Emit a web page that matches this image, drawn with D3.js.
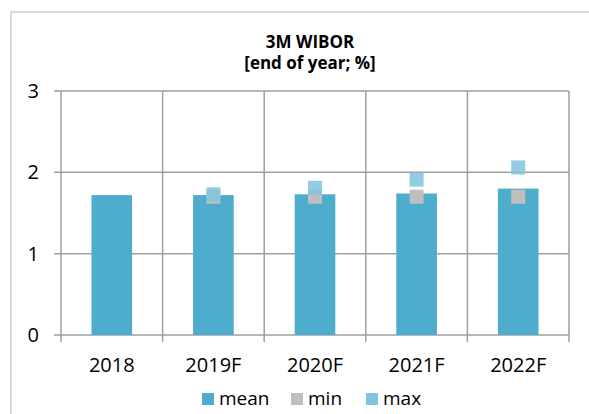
<!DOCTYPE html>
<html>
<head>
<meta charset="utf-8">
<script src="https://cdn.jsdelivr.net/npm/d3@7"></script>
<style>
  body { margin: 0; background: #fff; }
  text { font-family: "Open Sans", sans-serif; fill: #000; }
</style>
</head>
<body>
<svg id="chart" width="589" height="414"></svg>
<script>
// 数据
var categories = ["2018", "2019F", "2020F", "2021F", "2022F"];
var meanVals = [1.72, 1.72, 1.73, 1.74, 1.80];
var minVals = [null, 1.70, 1.70, 1.70, 1.70];
var maxVals = [null, 1.73, 1.81, 1.91, 2.06];
var yTicks = [0, 1, 2, 3];
var legendItems = ["mean", "min", "max"];
var titleLines = ["3M WIBOR", "[end of year; %]"];

var colors = { mean: "#4eadcc", min: "#bfbfbf", max: "#80c4de" };
var gridColor = "#9f9f9f";

var svg = d3.select("#chart");
var plotL = 61, plotR = 569, plotT = 91, plotB = 335;

// 外框
svg.append("rect")
    .attr("x", 11).attr("y", 12)
    .attr("width", 700).attr("height", 500)
    .attr("fill", "none")
    .attr("stroke", "#d9d9d9")
    .attr("stroke-width", 2);

var x = d3.scaleBand().domain(categories).range([plotL, plotR]);
var y = d3.scaleLinear().domain([0, 3]).range([plotB, plotT]);

// 标题
svg.append("g").selectAll("text")
    .data(titleLines)
    .enter()
    .append("text")
    .attr("x", 310)
    .attr("y", function (d, i) { return 48 + i * 21; })
    .attr("text-anchor", "middle")
    .attr("font-weight", "bold")
    .attr("font-size", 17)
    .text(function (d) { return d; });

// 横向网格线
svg.append("g").selectAll("line")
    .data(yTicks)
    .enter()
    .append("line")
    .attr("x1", plotL - 7).attr("x2", plotR)
    .attr("y1", function (d) { return y(d); })
    .attr("y2", function (d) { return y(d); })
    .attr("stroke", gridColor)
    .attr("stroke-width", 1.5);

// 纵向分隔线
var bounds = [plotL].concat(categories.map(function (d) { return x(d) + x.bandwidth(); }));
svg.append("g").selectAll("line")
    .data(bounds)
    .enter()
    .append("line")
    .attr("x1", function (d) { return d; })
    .attr("x2", function (d) { return d; })
    .attr("y1", plotT).attr("y2", plotB + 7)
    .attr("stroke", gridColor)
    .attr("stroke-width", 1.5);

// y轴标签
svg.append("g").selectAll("text")
    .data(yTicks)
    .enter()
    .append("text")
    .attr("x", 39)
    .attr("y", function (d) { return y(d); })
    .attr("dy", "0.35em")
    .attr("text-anchor", "end")
    .attr("font-size", 20)
    .text(function (d) { return d; });

// x轴标签
svg.append("g").selectAll("text")
    .data(categories)
    .enter()
    .append("text")
    .attr("x", function (d) { return x(d) + x.bandwidth() / 2; })
    .attr("y", 372)
    .attr("text-anchor", "middle")
    .attr("font-size", 20)
    .text(function (d) { return d; });

// 柱状图
var bw = x.bandwidth() * 0.4;
svg.append("g").selectAll("rect")
    .data(meanVals)
    .enter()
    .append("rect")
    .attr("x", function (d, i) { return x(categories[i]) + x.bandwidth() / 2 - bw / 2; })
    .attr("y", function (d) { return y(d); })
    .attr("width", bw)
    .attr("height", function (d) { return plotB - y(d); })
    .attr("fill", colors.mean);

// min / max 点
function drawMarkers(vals, color, opacity) {
    var pts = vals.map(function (v, i) { return { v: v, c: categories[i] }; })
        .filter(function (d) { return d.v != null; });
    svg.append("g").selectAll("rect")
        .data(pts)
        .enter()
        .append("rect")
        .attr("x", function (d) { return x(d.c) + x.bandwidth() / 2 - 7; })
        .attr("y", function (d) { return y(d.v) - 7; })
        .attr("width", 14).attr("height", 14)
        .attr("fill", color)
        .attr("fill-opacity", opacity);
}
drawMarkers(minVals, colors.min, 1);
drawMarkers(maxVals, colors.max, 0.85);

// 图例
var legendX = [202, 291, 366];
var lg = svg.append("g").selectAll("g")
    .data(legendItems)
    .enter()
    .append("g")
    .attr("transform", function (d, i) { return "translate(" + legendX[i] + ",393)"; });
lg.append("rect")
    .attr("width", 12).attr("height", 12)
    .attr("fill", function (d) { return colors[d]; });
lg.append("text")
    .attr("x", 17).attr("y", 12)
    .attr("font-size", 19)
    .text(function (d) { return d; });
</script>
</body>
</html>
